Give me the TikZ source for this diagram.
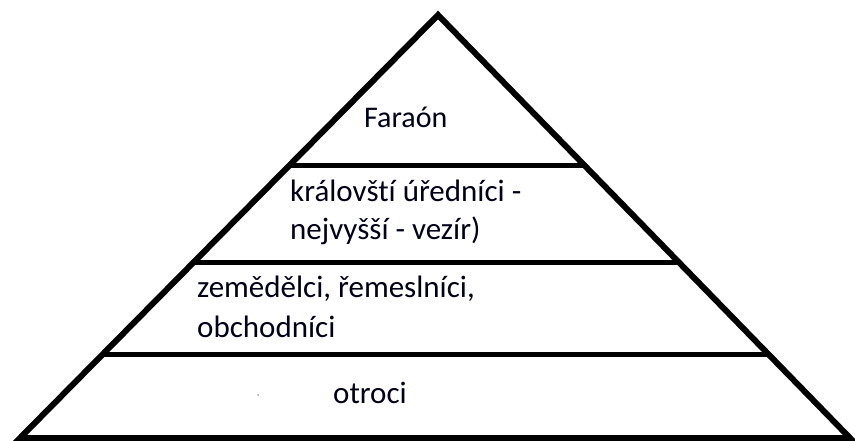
\documentclass[tikz,border=0pt]{standalone}
\usepackage{fontspec}
\setmainfont[Ligatures={NoCommon}]{Carlito}
\begin{document}
\begin{tikzpicture}[x=1pt,y=-1pt,
  edge/.style={line width=6pt,line join=miter},
  band/.style={line width=5pt},
  lbl/.style={anchor=base west,inner sep=0pt,font=\fontsize{31}{37}\selectfont,text=black!90!blue}]
\useasboundingbox (0,0) rectangle (855,441);
\coordinate (apex) at (438,15);
\coordinate (bl) at (20,438);
\coordinate (br) at (850,438);
\draw[edge] (bl) -- (apex) -- (br) -- cycle;
\foreach \n/\y in {a/165,b/262,c/354}{
  \coordinate (\n L0) at (0,\y);
  \coordinate (\n R0) at (855,\y);
  \coordinate (\n L) at (intersection of apex--bl and \n L0--\n R0);
  \coordinate (\n R) at (intersection of apex--br and \n L0--\n R0);
  \draw[band] (\n L) -- (\n R);
}
\node[lbl,font=\fontsize{30}{36}\selectfont] (farao) at (364,128) {Faraón};
\node[lbl] (ured1) at (290,202) {královští úředníci -};
\node[lbl] (ured2) at (290,240) {nejvyšší - vezír)};
\node[lbl] (zem1) at (197,298) {zemědělci, řemeslníci,};
\node[lbl] (zem2) at (197,337) {obchodníci};
\node[lbl] (otroci) at (333,403) {otroci};
\fill[gray!70] (258,395) circle (1pt);
\end{tikzpicture}
\end{document}
